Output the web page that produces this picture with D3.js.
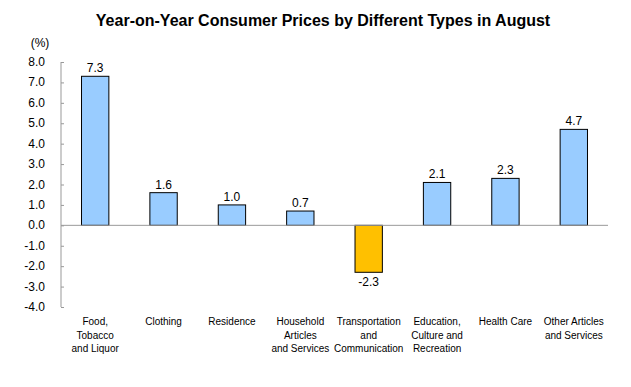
<!DOCTYPE html>
<html>
<head>
<meta charset="utf-8">
<script src="https://cdn.jsdelivr.net/npm/d3@7"></script>
<style>
  body { margin: 0; background: #fff; }
  text { font-family: "Liberation Sans", Arial, sans-serif; }
</style>
</head>
<body>
<div id="canvas"></div>
<script>
const categories = [
    ["Food,", "Tobacco", "and Liquor"],
    ["Clothing"],
    ["Residence"],
    ["Household", "Articles", "and Services"],
    ["Transportation", "and", "Communication"],
    ["Education,", "Culture and", "Recreation"],
    ["Health Care"],
    ["Other Articles", "and Services"]
];
const values = [7.3, 1.6, 1.0, 0.7, -2.3, 2.1, 2.3, 4.7];
const yTicks = [-4, -3, -2, -1, 0, 1, 2, 3, 4, 5, 6, 7, 8];

const canvas = d3.select("#canvas");
const width = 631;
const height = 387;
const margin = { top: 62, left: 61, bottom: 80, right: 23 };
const iwidth = width - margin.left - margin.right;
const iheight = 307 - margin.top;

const svg = canvas.append("svg")
    .attr("width", width)
    .attr("height", height);

svg.append("text")
    .attr("x", 323)
    .attr("y", 26)
    .attr("text-anchor", "middle")
    .style("font-size", "16px")
    .style("font-weight", "bold")
    .text("Year-on-Year Consumer Prices by Different Types in August");

svg.append("text")
    .attr("x", 40)
    .attr("y", 47)
    .attr("text-anchor", "middle")
    .style("font-size", "12px")
    .text("(%)");

const g = svg.append("g").attr("transform", `translate(${margin.left},${margin.top})`);

const y = d3.scaleLinear()
    .domain([-4, 8])
    .range([iheight, 0]);

const x = d3.scaleBand()
    .domain(d3.range(categories.length))
    .range([0, iwidth])
    .paddingInner(0.6)
    .paddingOuter(0.3);

// y axis
const yAxis = g.append("g")
    .call(d3.axisRight(y).tickValues(yTicks).tickSize(3).tickFormat(""));
yAxis.select(".domain").attr("stroke", "#999").attr("d", `M0,0V${iheight}`);
yAxis.selectAll(".tick line").attr("stroke", "#999");

g.selectAll(".ylab").data(yTicks).enter().append("text")
    .attr("class", "ylab")
    .attr("x", -16)
    .attr("y", d => y(d) + 4)
    .attr("text-anchor", "end")
    .style("font-size", "12px")
    .text(d => d.toFixed(1));

// bars
g.selectAll("rect").data(values).enter().append("rect")
    .attr("x", (d, i) => x(i))
    .attr("y", d => y(Math.max(0, d)))
    .attr("width", x.bandwidth())
    .attr("height", d => Math.abs(y(d) - y(0)))
    .attr("fill", d => d < 0 ? "#FFC000" : "#99CCFF")
    .attr("stroke", "#000")
    .attr("stroke-width", 1);

// zero line
g.append("line")
    .attr("x1", 0).attr("x2", iwidth)
    .attr("y1", y(0)).attr("y2", y(0))
    .attr("stroke", "#999");

// value labels
g.selectAll(".vlab").data(values).enter().append("text")
    .attr("class", "vlab")
    .attr("x", (d, i) => x(i) + x.bandwidth() / 2)
    .attr("y", d => d < 0 ? y(d) + 14 : y(d) - 4)
    .attr("text-anchor", "middle")
    .style("font-size", "12px")
    .text(d => d.toFixed(1));

// category labels
const cat = g.selectAll(".cat").data(categories).enter().append("text")
    .attr("class", "cat")
    .attr("text-anchor", "middle")
    .style("font-size", "10px")
    .attr("transform", (d, i) => `translate(${x(i) + x.bandwidth() / 2},${iheight + 18})`);

cat.selectAll("tspan").data(d => d).enter().append("tspan")
    .attr("x", 0)
    .attr("y", (d, i) => i * 13.5)
    .text(d => d);
</script>
</body>
</html>
